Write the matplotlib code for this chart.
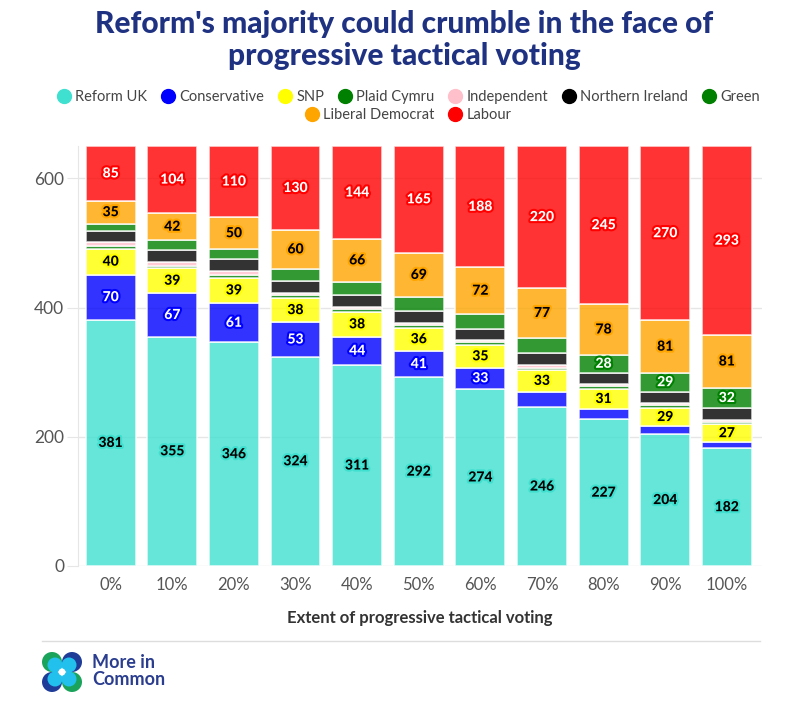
import numpy as np
import matplotlib
matplotlib.use("Agg")
import matplotlib.pyplot as plt
import matplotlib.patheffects as pe
from matplotlib.lines import Line2D
from matplotlib.patches import Circle

plt.rcParams['font.family'] = ['Lato', 'DejaVu Sans']

# data
scenarios = ['0%', '10%', '20%', '30%', '40%', '50%', '60%', '70%', '80%', '90%', '100%']
parties = ['Reform UK', 'Conservative', 'SNP', 'Plaid Cymru', 'Independent',
           'Northern Ireland', 'Green', 'Liberal Democrat', 'Labour']
reform = [381, 355, 346, 324, 311, 292, 274, 246, 227, 204, 182]
conservative = [70, 67, 61, 53, 44, 41, 33, 24, 16, 12, 10]
snp = [40, 39, 39, 38, 38, 36, 35, 33, 31, 29, 27]
plaid = [4, 4, 5, 4, 4, 4, 4, 4, 4, 4, 4]
independent = [6, 6, 6, 4, 4, 3, 3, 4, 3, 3, 3]
northern_ireland = [18, 18, 18, 18, 18, 18, 18, 18, 18, 18, 18]
green = [11, 15, 15, 19, 21, 22, 23, 24, 28, 29, 32]
libdem = [35, 42, 50, 60, 66, 69, 72, 77, 78, 81, 81]
labour = [85, 104, 110, 130, 144, 165, 188, 220, 245, 270, 293]

series = [reform, conservative, snp, plaid, independent,
          northern_ireland, green, libdem, labour]
colors = ['turquoise', 'blue', 'yellow', 'green', 'pink',
          'black', 'green', 'orange', 'red']
text_colors = ['black', 'white', 'black', 'white', 'black',
               'white', 'white', 'black', 'white']

fig = plt.figure(figsize=(8.09, 7.13), dpi=100)
ax = fig.add_axes([78/809, 147/713, 684/809, 420/713])

x = np.arange(len(scenarios))
bottom = np.zeros(len(scenarios))
for vals, col, tcol in zip(series, colors, text_colors):
    vals = np.array(vals)
    ax.bar(x, vals, bottom=bottom, width=0.81, color=col, alpha=0.8,
           edgecolor='white', linewidth=1.2, zorder=3)
    for i, v in enumerate(vals):
        if v >= 25:
            ax.text(x[i], bottom[i] + v/2, str(v), ha='center', va='center',
                    fontsize=10, fontweight='black', color=tcol, zorder=4,
                    path_effects=[pe.withStroke(linewidth=3, foreground=col)])
    bottom += vals

ax.set_xlim(-0.53, 10.57)
ax.set_ylim(0, 650)
ax.set_yticks([0, 200, 400, 600])
ax.set_xticks(x)
ax.set_xticklabels(scenarios)
ax.grid(axis='y', color='#e6e6e6', linewidth=1, zorder=0)
for s in ['top', 'right', 'bottom']:
    ax.spines[s].set_visible(False)
ax.spines['left'].set_color('#e6e6e6')
ax.tick_params(axis='y', length=8, color='#e6e6e6', labelsize=12.5,
               labelcolor='#555555', pad=2)
ax.tick_params(axis='x', length=0, labelsize=12, labelcolor='#555555', pad=8)
ax.set_xlabel('Extent of progressive tactical voting', fontsize=12,
              fontweight='bold', color='#333333', labelpad=12)

# title
fig.text(0.5, 1 - 40/713, "Reform's majority could crumble in the face of\nprogressive tactical voting",
         ha='center', va='center', fontsize=21.5, fontweight='black',
         color='#1f3282', linespacing=1.2)

# legend, two centred rows
def handle(c):
    return Line2D([], [], marker='o', linestyle='', markersize=10,
                  markerfacecolor=c, markeredgecolor=c)

leg1 = fig.legend([handle(c) for c in colors[:7]], parties[:7], loc='center',
                  bbox_to_anchor=(0.5, 1 - 97/713), ncol=7, frameon=False,
                  fontsize=10.5, handletextpad=-0.2, columnspacing=0.4,
                  borderaxespad=0)
leg2 = fig.legend([handle(c) for c in colors[7:]], parties[7:], loc='center',
                  bbox_to_anchor=(0.5, 1 - 115/713), ncol=2, frameon=False,
                  fontsize=10.5, handletextpad=-0.2, columnspacing=0.4,
                  borderaxespad=0)
for lg in (leg1, leg2):
    for t in lg.get_texts():
        t.set_color('#444444')

# divider line
fig.add_artist(Line2D([42/809, 760/809], [1 - 641/713, 1 - 641/713],
                      color='#dddddd', linewidth=1))

# logo
lax = fig.add_axes([42/809, (713-692)/713, 40/809, 40/713])
lax.set_xlim(0, 40)
lax.set_ylim(0, 40)
lax.axis('off')
navy = '#1f3c99'
grn = '#1aa35b'
cyan = '#22c0ec'
for (cx, cy, c) in [(10, 30, grn), (30, 30, navy), (10, 10, navy), (30, 10, grn)]:
    lax.add_patch(Circle((cx, cy), 10, color=c, lw=0))
for (cx, cy) in [(13, 27), (27, 27), (13, 13), (27, 13)]:
    lax.add_patch(Circle((cx, cy), 7.5, color=cyan, lw=0))
lax.add_patch(Circle((20, 20), 3.5, color='white', lw=0))
fig.text(92/809, 1 - 671/713, 'More in\nCommon', ha='left', va='center',
         fontsize=13, fontweight='bold', color='#2a3d8f', linespacing=1.0)

fig.savefig('out.png', dpi=100)
